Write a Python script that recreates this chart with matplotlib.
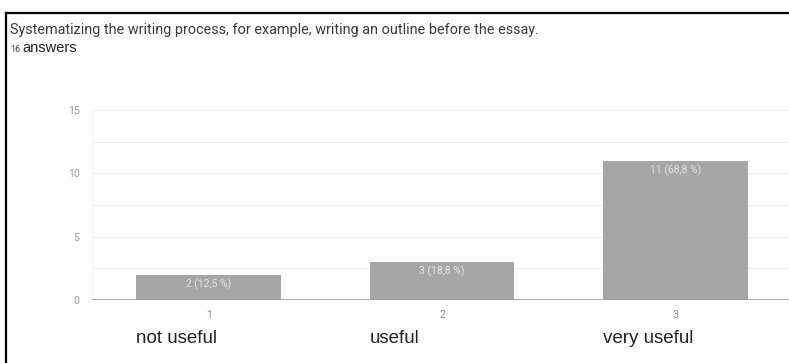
import matplotlib.pyplot as plt
from matplotlib.lines import Line2D

title = "Systematizing the writing process, for example, writing an outline before the essay."
n_answers = 16
ticks = ["1", "2", "3"]
names = ["not useful", "useful", "very useful"]
counts = [2, 3, 11]
shares = ["12,5", "18,8", "68,8"]

fig = plt.figure(figsize=(7.89, 3.63), dpi=100)
W, H = 789, 363

def fx(px):
    return px / W

def fy(py):
    return 1 - py / H

# frame around the card (left and top edges only)
fig.add_artist(Line2D([fx(6), fx(6)], [fy(13), 0], color="black", lw=1.6))
fig.add_artist(Line2D([fx(6), 1], [fy(13), fy(13)], color="black", lw=1.6))

fig.text(fx(10), fy(30), title, fontsize=10.4, color="#3a3a3a",
         family="Roboto", va="center", ha="left")
fig.text(fx(10), fy(49), str(n_answers), fontsize=6.5, color="#444444",
         family="Roboto", va="center", ha="left")
fig.text(fx(22), fy(48), "answers", fontsize=10.5, color="#222222",
         family="Liberation Sans", va="center", ha="left")

ax = fig.add_axes([fx(92), fy(300), fx(792) - fx(92), fy(110) - fy(300)])
x = range(1, len(counts) + 1)
bars = ax.bar(x, counts, width=0.62, color="#a6a6a6", zorder=2)
ax.set_xlim(0.5, 3.5)
ax.set_ylim(0, 15)

for v in [2.5, 5, 7.5, 10, 12.5, 15]:
    ax.axhline(v, color="#efefef", lw=0.8, zorder=1)
ax.axhline(0, color="#9a9a9a", lw=1.2, zorder=3)

for b, c, s in zip(bars, counts, shares):
    ax.text(b.get_x() + b.get_width() / 2, c - 0.75, f"{c} ({s} %)",
            ha="center", va="center", fontsize=7.5, color="#e4e4e4",
            family="Roboto", zorder=4)

ax.set_yticks([0, 5, 10, 15])
ax.set_yticklabels(["0", "5", "10", "15"], fontsize=7.5, color="#9a9a9a",
                   family="Roboto")
ax.set_xticks(list(x))
ax.set_xticklabels(ticks, fontsize=7.5, color="#8a8a8a", family="Roboto")
ax.tick_params(length=0, pad=7)
ax.tick_params(axis="y", pad=9)
for sp in ax.spines.values():
    sp.set_visible(False)
ax.axvline(0.5, color="#f6f6f6", lw=0.8, zorder=1)

# category names under the tick numbers, aligned with each bar's left edge
for b, name in zip(bars, names):
    ax.annotate(name, (b.get_x(), 0), xytext=(0, -28), textcoords="offset points",
                ha="left", va="center", fontsize=13.5, color="#222222",
                family="Liberation Sans", annotation_clip=False)

fig.savefig("out.png", dpi=100, facecolor="white")
